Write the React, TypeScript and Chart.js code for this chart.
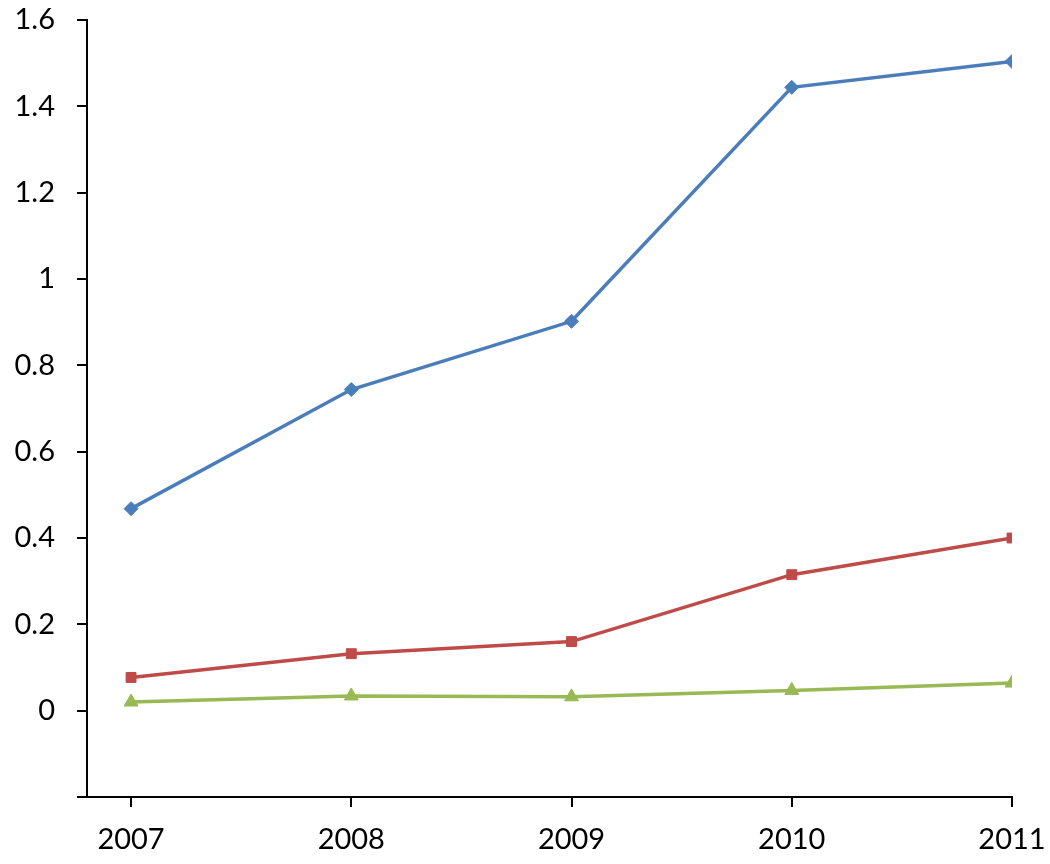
import React, { useEffect, useRef } from "react";
import { Chart, registerables } from "chart.js";

Chart.register(...registerables);

const years = [2007, 2008, 2009, 2010, 2011];
const seriesA = [0.468, 0.744, 0.902, 1.444, 1.504];
const seriesB = [0.077, 0.132, 0.160, 0.315, 0.400];
const seriesC = [0.020, 0.034, 0.032, 0.047, 0.064];
const yTicks = [-0.2, 0, 0.2, 0.4, 0.6, 0.8, 1, 1.2, 1.4, 1.6];

export default function App() {
  const ref = useRef<HTMLCanvasElement | null>(null);
  useEffect(() => {
    if (!ref.current) return;
    const font = { family: "Lato, 'Open Sans', sans-serif", size: 29 };
    const mk = (vals: number[]) => vals.map((v, i) => ({ x: years[i], y: v }));
    const chart = new Chart(ref.current, {
      type: "line",
      data: {
        datasets: [
          {
            data: mk(seriesA),
            borderColor: "#4A7EBB",
            backgroundColor: "#4A7EBB",
            borderWidth: 3.5,
            pointStyle: "rectRot",
            pointRadius: 7,
            pointBorderWidth: 1,
          },
          {
            data: mk(seriesB),
            borderColor: "#BE4B48",
            backgroundColor: "#BE4B48",
            borderWidth: 3.5,
            pointStyle: "rect",
            pointRadius: 7,
            pointBorderWidth: 1,
          },
          {
            data: mk(seriesC),
            borderColor: "#98B954",
            backgroundColor: "#98B954",
            borderWidth: 3.5,
            pointStyle: "triangle",
            pointRadius: 8,
            pointBorderWidth: 1,
          },
        ],
      },
      options: {
        animation: false,
        responsive: false,
        layout: { padding: { top: 20, right: 38, left: 0, bottom: 0 } },
        plugins: { legend: { display: false }, tooltip: { enabled: false } },
        scales: {
          x: {
            type: "linear",
            min: 2006.8,
            max: 2011,
            afterBuildTicks: (s: any) => {
              s.ticks = years.map((y) => ({ value: y }));
            },
            afterFit: (s: any) => {
              s.height = 67;
              s.paddingLeft = 0;
              s.paddingRight = 0;
            },
            ticks: {
              color: "#000",
              font,
              padding: 15,
              maxRotation: 0,
              callback: (v: any) => String(v),
            },
            grid: { drawOnChartArea: false, drawTicks: true, tickLength: 10, color: "#000", lineWidth: 2 },
            border: { display: true, color: "#000", width: 2 },
          },
          y: {
            min: -0.2,
            max: 1.6,
            afterBuildTicks: (s: any) => {
              s.ticks = yTicks.map((v) => ({ value: v }));
            },
            afterFit: (s: any) => {
              s.width = 87;
              s.paddingTop = 0;
              s.paddingBottom = 0;
            },
            ticks: {
              color: "#000",
              font,
              padding: 22,
              callback: (v: any) => {
                const n = Math.round(Number(v) * 10) / 10;
                if (n < 0) return "";
                return String(n);
              },
            },
            grid: { drawOnChartArea: false, drawTicks: true, tickLength: 10, color: "#000", lineWidth: 2 },
            border: { display: true, color: "#000", width: 2 },
          },
        },
      },
    });
    return () => chart.destroy();
  }, []);
  return (
    <div style={{ position: "absolute", left: 0, top: 0, width: 1050, height: 864, background: "#fff" }}>
      <canvas ref={ref} width={1050} height={864} style={{ width: 1050, height: 864 }} />
    </div>
  );
}
